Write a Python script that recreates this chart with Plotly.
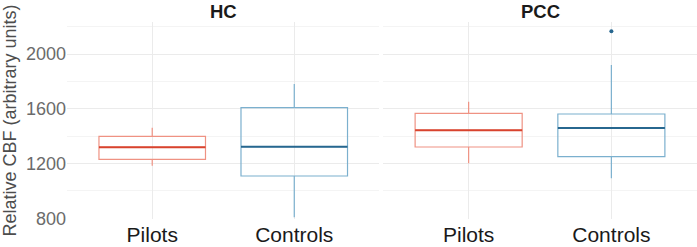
import plotly.graph_objects as go

regions = ["HC", "PCC"]
groups = ["Pilots", "Controls"]
# stats per region, order: Pilots, Controls
q1 = {"HC": [1231, 1109], "PCC": [1321, 1250]}
median = {"HC": [1319, 1323], "PCC": [1443, 1460]}
q3 = {"HC": [1399, 1608], "PCC": [1567, 1562]}
lowerfence = {"HC": [1184, 807], "PCC": [1202, 1092]}
upperfence = {"HC": [1462, 1782], "PCC": [1652, 1920]}
outliers = {"HC": [[], []], "PCC": [[], [2166]]}

box_colors = ["#EF9283", "#7BB0CE"]
median_colors = ["#D8432E", "#27678F"]
box_width = 0.75

fig = go.Figure()
for ri, reg in enumerate(regions):
    xa = "x" if ri == 0 else "x2"
    ya = "y" if ri == 0 else "y2"
    for gi, g in enumerate(groups):
        fig.add_trace(go.Box(
            x=[gi], q1=[q1[reg][gi]], median=[median[reg][gi]], q3=[q3[reg][gi]],
            lowerfence=[lowerfence[reg][gi]], upperfence=[upperfence[reg][gi]],
            width=box_width, whiskerwidth=0,
            line=dict(color=box_colors[gi], width=1.2),
            fillcolor="rgba(255,255,255,0)", boxpoints=False,
            xaxis=xa, yaxis=ya, showlegend=False, hoverinfo="skip"))
        fig.add_trace(go.Scatter(
            x=[gi - box_width / 2, gi + box_width / 2],
            y=[median[reg][gi], median[reg][gi]],
            mode="lines", line=dict(color=median_colors[gi], width=2),
            xaxis=xa, yaxis=ya, showlegend=False, hoverinfo="skip"))
        if outliers[reg][gi]:
            fig.add_trace(go.Scatter(
                x=[gi] * len(outliers[reg][gi]), y=outliers[reg][gi],
                mode="markers", marker=dict(color=median_colors[gi], size=4),
                xaxis=xa, yaxis=ya, showlegend=False, hoverinfo="skip"))

yrange = [795, 2234]
xcommon = dict(range=[-0.6, 1.6], tickvals=[0, 1], ticktext=groups,
               showgrid=True, gridcolor="#EBEBEB", gridwidth=1, zeroline=False,
               showline=False, ticks="", ticklabelstandoff=1, automargin=False,
               tickfont=dict(family="Liberation Sans, Arial", size=21, color="#1A1A1A"))
ycommon = dict(range=yrange, tickvals=[800, 1200, 1600, 2000], showgrid=True,
               gridcolor="#EBEBEB", gridwidth=1, zeroline=False, showline=False, ticks="",
               automargin=False,
               minor=dict(tickvals=[1000, 1400, 1800, 2200], showgrid=True,
                          gridcolor="#F4F4F4", gridwidth=1))

fig.update_layout(
    width=697, height=247,
    margin=dict(l=67, r=0, t=22, b=28),
    paper_bgcolor="white", plot_bgcolor="white",
    xaxis=dict(domain=[0, 0.496], anchor="y", **xcommon),
    xaxis2=dict(domain=[0.5016, 1], anchor="y2", **xcommon),
    yaxis=dict(anchor="x", **ycommon,
               tickfont=dict(family="Liberation Sans, Arial", size=18, color="#6B6B6B"),
               title=dict(text="Relative CBF (arbitrary units)", standoff=5,
                          font=dict(family="Liberation Sans, Arial", size=18, color="#4D4D4D"))),
    yaxis2=dict(anchor="x2", showticklabels=False, **ycommon),
    annotations=[
        dict(text="<b>HC</b>", x=0.248, y=1, xref="paper", yref="paper",
             xanchor="center", yanchor="middle", yshift=11, showarrow=False,
             font=dict(family="Liberation Sans, Arial", size=18.5, color="#1A1A1A")),
        dict(text="<b>PCC</b>", x=0.7508, y=1, xref="paper", yref="paper",
             xanchor="center", yanchor="middle", yshift=11, showarrow=False,
             font=dict(family="Liberation Sans, Arial", size=18.5, color="#1A1A1A")),
    ],
)

fig.write_html("out.html")
